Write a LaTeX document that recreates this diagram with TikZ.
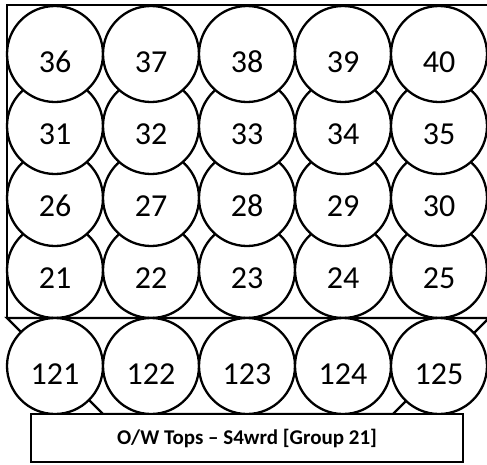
\documentclass[tikz,border=0pt]{standalone}
\usepackage{fontspec}
\setmainfont{Carlito}
\begin{document}
\begin{tikzpicture}[x=1pt,y=-1pt,
  line/.style={line width=2.3pt, black},
  ball/.style={circle, draw, fill=white, line width=2.3pt, minimum size=96pt, inner sep=0pt,
    font=\fontsize{32}{32}\selectfont, text height=36pt, text depth=0pt},
  labelbox/.style={draw, fill=white, line width=2.3pt, minimum width=432pt, minimum height=48pt,
    inner sep=0pt, font=\bfseries\fontsize{21}{21}\selectfont}]
\useasboundingbox (0,0) rectangle (487,464);
% outer rectangle of the upper block
\draw[line] (7,5) rectangle (489,318);
% circles of the upper block (lower rows first)
\foreach \r/\yy in {21/270,26/198,31/126,36/54}{
  \foreach \i in {0,...,4}{
    \pgfmathtruncatemacro\n{\r+\i}
    \node[ball] (c\n) at (55+96*\i,\yy) {\n};
  }
}
% lower trapezoid
\coordinate (tl) at (7,318);
\coordinate (bl) at (103,414);
\coordinate (br) at (393,414);
\coordinate (tr) at (489,318);
\draw[line] (tl) -- (bl) -- (br) -- (tr) -- cycle;
% lower row of circles
\foreach \i in {0,...,4}{
  \pgfmathtruncatemacro\n{121+\i}
  \node[ball] (c\n) at (55+96*\i,366) {\n};
}
% caption box
\node[labelbox] (caption) at (247,438) {O/W Tops – S4wrd [Group 21]};
\end{tikzpicture}
\end{document}
